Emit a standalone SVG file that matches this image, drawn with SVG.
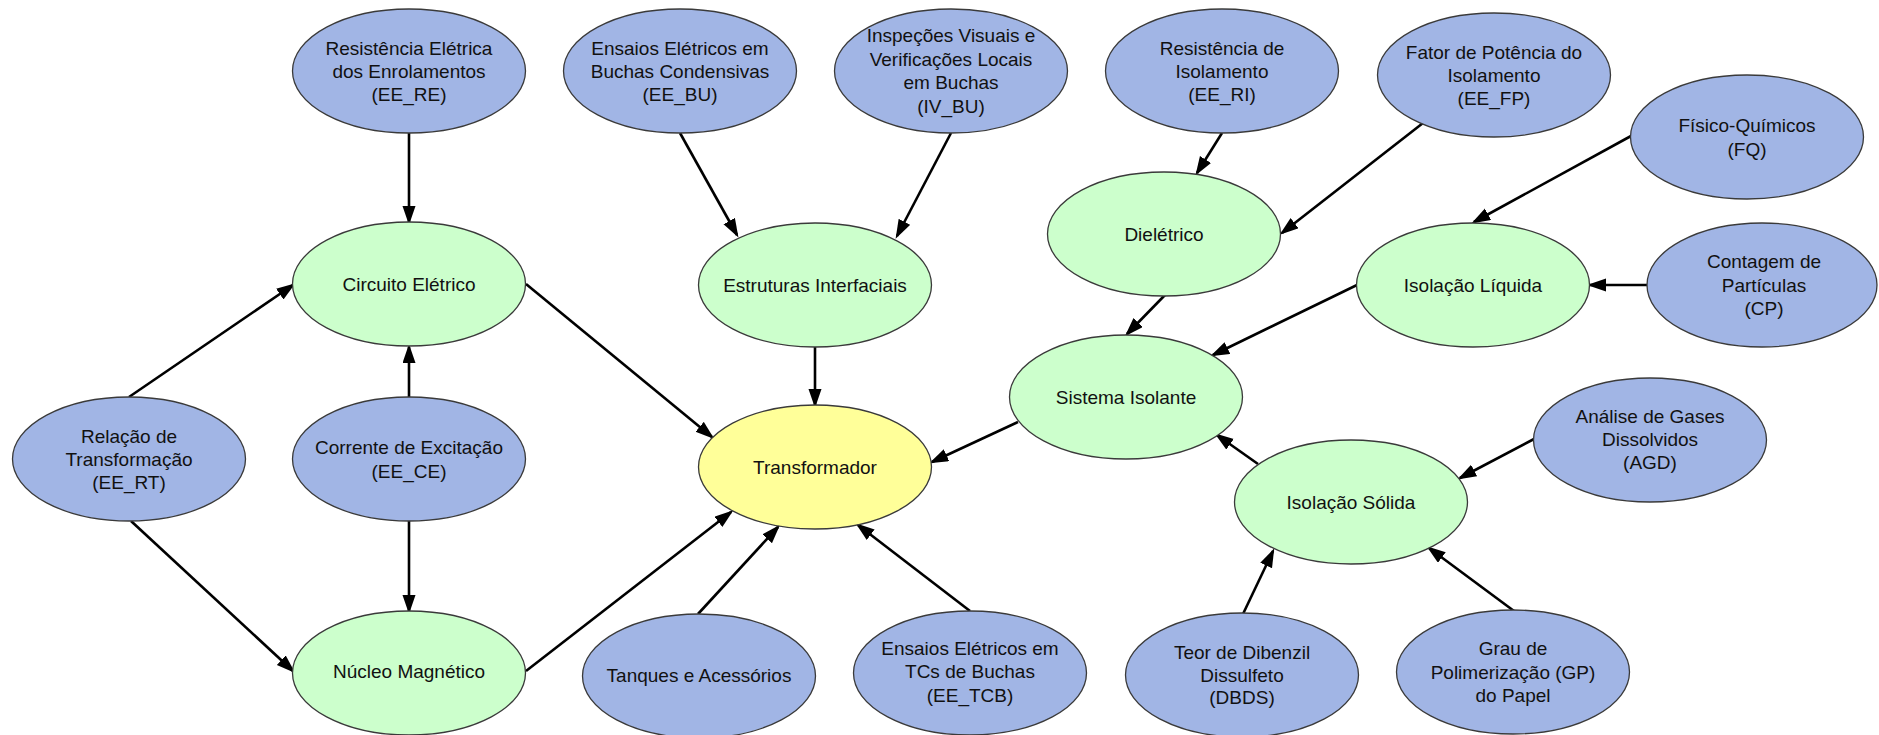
<svg xmlns="http://www.w3.org/2000/svg" width="1879" height="735" viewBox="0 0 1879 735">
<style>
.n ellipse{stroke:#3a3a3a;stroke-width:1.3}
.ev ellipse{fill:#A1B5E5}
.lat ellipse{fill:#CCFFCC}
.root ellipse{fill:#FFFF99}
text{font-family:"Liberation Sans",Arial,sans-serif;font-size:19px;fill:#111;text-anchor:middle;dominant-baseline:central}
#edges line{stroke:#000;stroke-width:2.6;marker-end:url(#arr)}
</style>
<defs>
<marker id="arr" markerUnits="userSpaceOnUse" markerWidth="20" markerHeight="14" refX="16" refY="6.5" orient="auto">
<path d="M0,0 L19,6.5 L0,13 z" fill="#000"/>
</marker>
</defs>
<rect width="1879" height="735" fill="#fff"/>
<g id="edges">
<line x1="409" y1="133" x2="409" y2="222"/>
<line x1="680" y1="133" x2="737" y2="235"/>
<line x1="951" y1="133" x2="897" y2="236"/>
<line x1="815" y1="347" x2="815" y2="405"/>
<line x1="526" y1="284" x2="712" y2="437"/>
<line x1="129" y1="397" x2="293" y2="285"/>
<line x1="409" y1="397" x2="409" y2="347"/>
<line x1="409" y1="521" x2="409" y2="611"/>
<line x1="131" y1="521" x2="293" y2="671"/>
<line x1="526" y1="671" x2="731" y2="512"/>
<line x1="698" y1="614" x2="778" y2="527"/>
<line x1="970" y1="611" x2="858" y2="525"/>
<line x1="1018" y1="422" x2="932" y2="462"/>
<line x1="1165" y1="295" x2="1127" y2="334"/>
<line x1="1222" y1="133" x2="1197" y2="173"/>
<line x1="1423" y1="123" x2="1282" y2="233"/>
<line x1="1631" y1="136" x2="1474" y2="222"/>
<line x1="1649" y1="285" x2="1590" y2="285"/>
<line x1="1357" y1="285" x2="1213" y2="355"/>
<line x1="1258" y1="464" x2="1217" y2="435"/>
<line x1="1534" y1="439" x2="1460" y2="478"/>
<line x1="1243" y1="614" x2="1273" y2="551"/>
<line x1="1514" y1="611" x2="1429" y2="548"/>
</g>
<g id="EE_RE" class="n ev"><ellipse cx="409" cy="71" rx="116.5" ry="62"/><text x="409" y="48">Resistência Elétrica</text><text x="409" y="71">dos Enrolamentos</text><text x="409" y="94">(EE_RE)</text></g>
<g id="EE_BU" class="n ev"><ellipse cx="680" cy="71" rx="116.5" ry="62"/><text x="680" y="48">Ensaios Elétricos em</text><text x="680" y="71">Buchas Condensivas</text><text x="680" y="94">(EE_BU)</text></g>
<g id="IV_BU" class="n ev"><ellipse cx="951" cy="71" rx="116.5" ry="62"/><text x="951" y="35">Inspeções Visuais e</text><text x="951" y="59">Verificações Locais</text><text x="951" y="82">em Buchas</text><text x="951" y="106">(IV_BU)</text></g>
<g id="EE_RI" class="n ev"><ellipse cx="1222" cy="71" rx="116.5" ry="62"/><text x="1222" y="48">Resistência de</text><text x="1222" y="71">Isolamento</text><text x="1222" y="94">(EE_RI)</text></g>
<g id="EE_FP" class="n ev"><ellipse cx="1494" cy="75" rx="116.5" ry="62"/><text x="1494" y="52">Fator de Potência do</text><text x="1494" y="75">Isolamento</text><text x="1494" y="98">(EE_FP)</text></g>
<g id="FQ" class="n ev"><ellipse cx="1747" cy="137" rx="116.5" ry="62"/><text x="1747" y="125">Físico-Químicos</text><text x="1747" y="149">(FQ)</text></g>
<g id="Dieletrico" class="n lat"><ellipse cx="1164" cy="234" rx="116.5" ry="62"/><text x="1164" y="234">Dielétrico</text></g>
<g id="CircuitoEletrico" class="n lat"><ellipse cx="409" cy="284" rx="116.5" ry="62"/><text x="409" y="284">Circuito Elétrico</text></g>
<g id="EstruturasInterfaciais" class="n lat"><ellipse cx="815" cy="285" rx="116.5" ry="62"/><text x="815" y="285">Estruturas Interfaciais</text></g>
<g id="IsolacaoLiquida" class="n lat"><ellipse cx="1473" cy="285" rx="116.5" ry="62"/><text x="1473" y="285">Isolação Líquida</text></g>
<g id="CP" class="n ev"><ellipse cx="1762" cy="285" rx="115" ry="62"/><text x="1764" y="261">Contagem de</text><text x="1764" y="285">Partículas</text><text x="1764" y="308">(CP)</text></g>
<g id="SistemaIsolante" class="n lat"><ellipse cx="1126" cy="397" rx="116.5" ry="62"/><text x="1126" y="397">Sistema Isolante</text></g>
<g id="EE_RT" class="n ev"><ellipse cx="129" cy="459" rx="116.5" ry="62"/><text x="129" y="436">Relação de</text><text x="129" y="459">Transformação</text><text x="129" y="482">(EE_RT)</text></g>
<g id="EE_CE" class="n ev"><ellipse cx="409" cy="459" rx="116.5" ry="62"/><text x="409" y="447">Corrente de Excitação</text><text x="409" y="471">(EE_CE)</text></g>
<g id="Transformador" class="n root"><ellipse cx="815" cy="467" rx="116.5" ry="62"/><text x="815" y="467">Transformador</text></g>
<g id="AGD" class="n ev"><ellipse cx="1650" cy="440" rx="116.5" ry="62"/><text x="1650" y="416">Análise de Gases</text><text x="1650" y="439">Dissolvidos</text><text x="1650" y="462">(AGD)</text></g>
<g id="IsolacaoSolida" class="n lat"><ellipse cx="1351" cy="502" rx="116.5" ry="62"/><text x="1351" y="502">Isolação Sólida</text></g>
<g id="NucleoMagnetico" class="n lat"><ellipse cx="409" cy="673" rx="116.5" ry="62"/><text x="409" y="671">Núcleo Magnético</text></g>
<g id="Tanques" class="n ev"><ellipse cx="699" cy="676" rx="116.5" ry="62"/><text x="699" y="675">Tanques e Acessórios</text></g>
<g id="EE_TCB" class="n ev"><ellipse cx="970" cy="673" rx="116.5" ry="62"/><text x="970" y="648">Ensaios Elétricos em</text><text x="970" y="671">TCs de Buchas</text><text x="970" y="695">(EE_TCB)</text></g>
<g id="DBDS" class="n ev"><ellipse cx="1242" cy="675" rx="116.5" ry="62"/><text x="1242" y="652">Teor de Dibenzil</text><text x="1242" y="675">Dissulfeto</text><text x="1242" y="697">(DBDS)</text></g>
<g id="GP" class="n ev"><ellipse cx="1513" cy="672" rx="116.5" ry="62"/><text x="1513" y="648">Grau de</text><text x="1513" y="672">Polimerização (GP)</text><text x="1513" y="695">do Papel</text></g>
</svg>
